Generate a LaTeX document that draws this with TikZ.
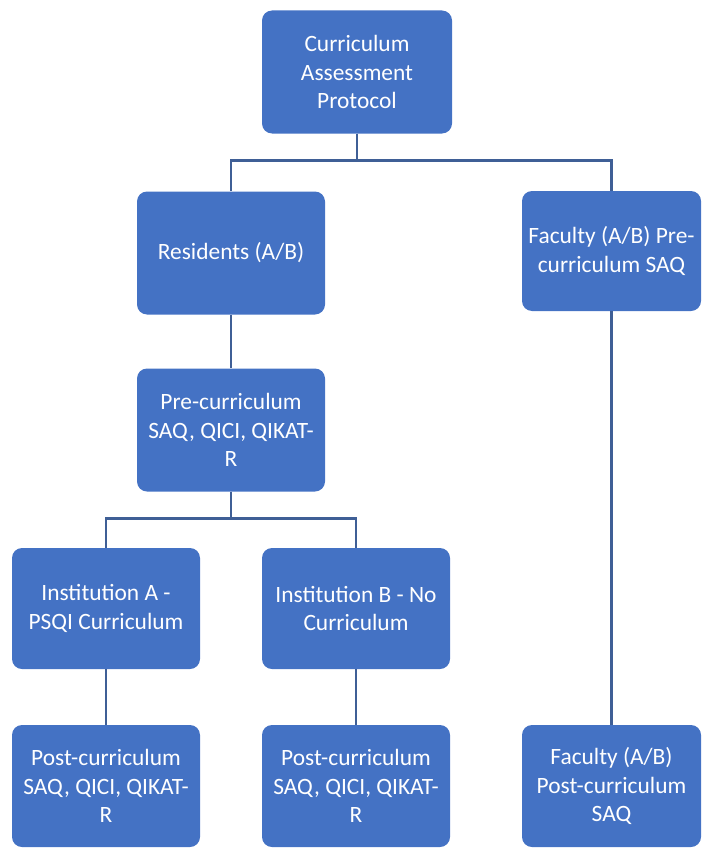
\documentclass[tikz,border=0pt]{standalone}
\usepackage{fontspec}
\setmainfont{Carlito}
\definecolor{boxblue}{HTML}{4472C4}
\definecolor{linkblue}{HTML}{3F5F96}

\begin{document}
\begin{tikzpicture}
  [x=1pt,y=-1pt,
   every node/.style={rectangle,rounded corners=10pt,fill=boxblue,text=white,
     minimum width=188pt,minimum height=123pt,align=center,inner sep=2pt,
     font=\fontsize{23.4}{28.6}\selectfont},
   link/.style={draw=linkblue,line width=2.6pt}]
  \useasboundingbox (0,0) rectangle (701,848);
  \node (top) at (357,72) [minimum width=190pt] {Curriculum\\Assessment\\Protocol};
  \node (res) at (231,253) {Residents (A/B)};
  \node (fpre) at (611.5,251) [minimum width=179pt,minimum height=120pt] {Faculty (A/B) Pre-\\curriculum SAQ};
  \node (pre) at (231,430) {Pre-curriculum\\SAQ, QICI, QIKAT-\\R};
  \node (insta) at (106,608.5) [minimum height=121pt] {Institution A -\\PSQI Curriculum};
  \node (instb) at (356,608.5) [minimum height=121pt] {Institution B - No\\Curriculum};
  \node (posta) at (106,786) [minimum height=122pt] {Post-curriculum\\SAQ, QICI, QIKAT-\\R};
  \node (postb) at (356,786) [minimum height=122pt] {Post-curriculum\\SAQ, QICI, QIKAT-\\R};
  \node (fpost) at (611.5,786) [minimum width=179pt,minimum height=122pt] {Faculty (A/B)\\Post-curriculum\\SAQ};
  \foreach \from/\to in {top/res,top/fpre,pre/insta,pre/instb}
    \draw[link] (\from.south) -- ++(0,27) -| (\to.north);
  \foreach \from/\to in {res/pre,insta/posta,instb/postb,fpre/fpost}
    \draw[link] (\from) -- (\to);
\end{tikzpicture}
\end{document}
